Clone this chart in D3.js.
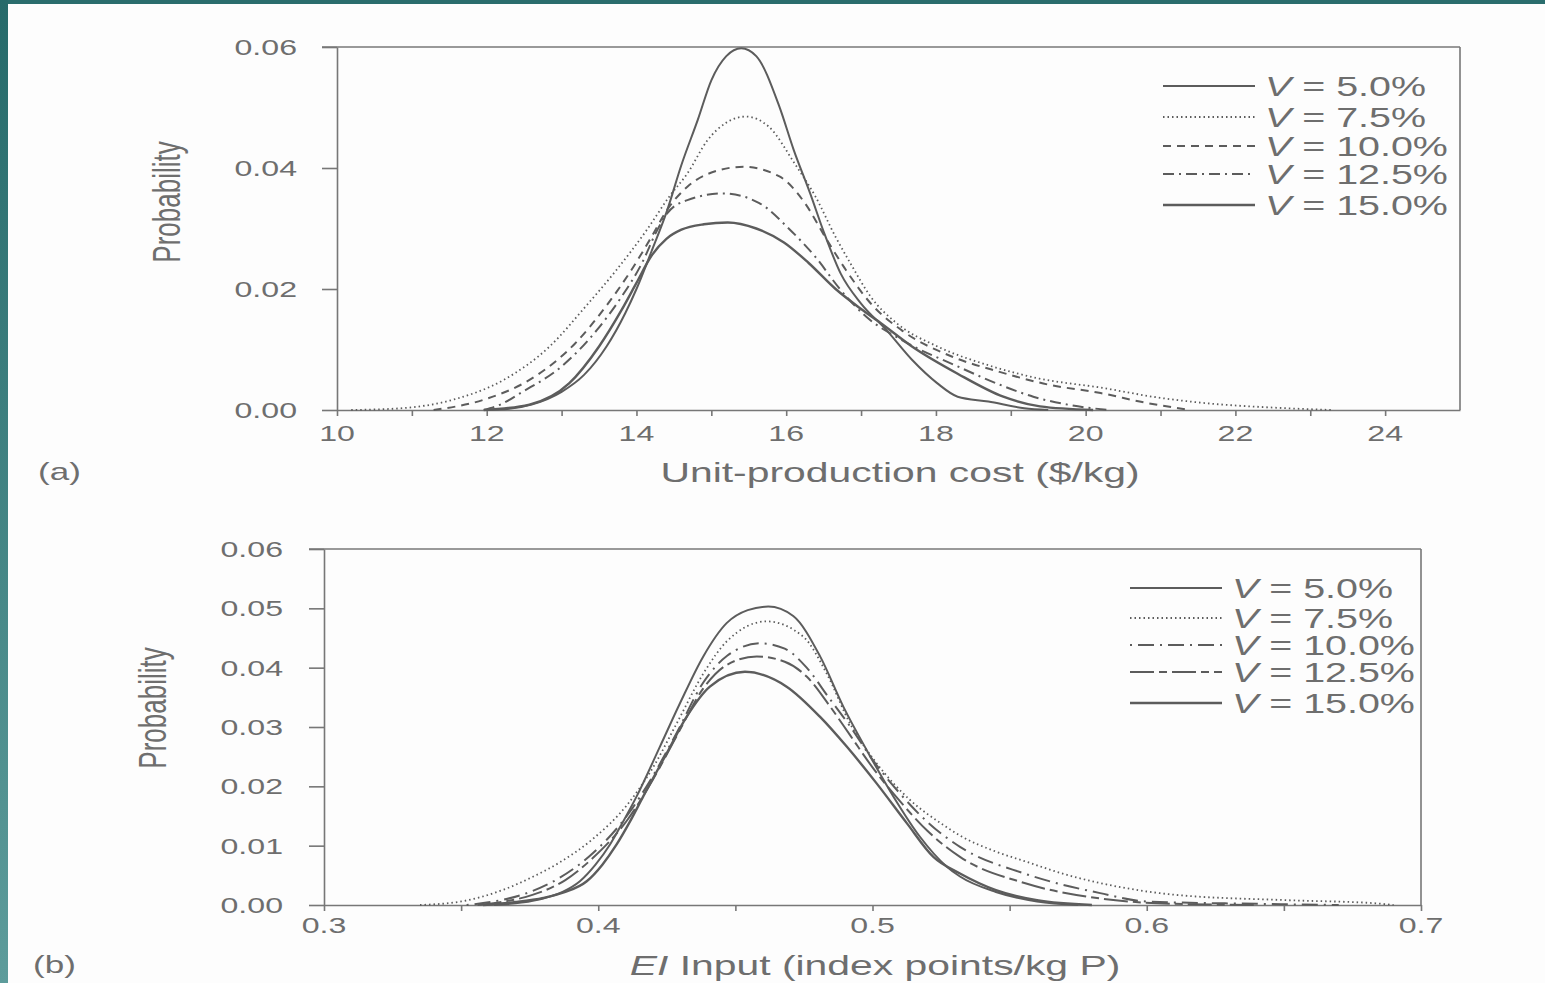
<!DOCTYPE html>
<meta charset="utf-8">
<title>Probability distributions</title>
<style>
  body { margin: 0; background: #fdfdfd; }
  svg { display: block; }
  text { font-family: 'Liberation Sans', Arial, sans-serif; fill: #6e6e6e; }
  .axis path, .axis line { stroke: #777; stroke-width: 1.6; }
</style>
<body>
<div id="chart"></div>
<script src="https://d3js.org/d3.v7.min.js"></script>
<script>
// ---- data ----
// (a) unit-production cost ($/kg) vs probability
var costV5 = [[12.0,0],[12.3,0.0002],[12.6,0.0009],[13.0,0.003],[13.3,0.0058],[13.6,0.0105],[13.85,0.016],[14.0,0.020],[14.2,0.0262],[14.41,0.033],[14.6,0.0405],[14.82,0.048],[15.0,0.0545],[15.2,0.0585],[15.4,0.0598],[15.6,0.0585],[15.91,0.0501],[16.1,0.043],[16.32,0.0358],[16.5,0.0295],[16.73,0.0225],[17.0,0.0176],[17.34,0.0132],[17.68,0.0083],[18.02,0.0044],[18.29,0.0022],[18.7,0.0014],[19.18,0.0003],[19.5,0]];
var costV75 = [[10.19,0],[10.87,0.0003],[11.55,0.0017],[12.23,0.005],[12.84,0.0105],[13.32,0.0171],[13.73,0.0231],[14.14,0.0298],[14.44,0.0353],[14.68,0.0391],[14.95,0.0446],[15.2,0.0475],[15.46,0.0485],[15.77,0.0468],[16.11,0.0408],[16.39,0.0353],[16.66,0.0286],[16.86,0.0242],[17.13,0.0187],[17.48,0.0143],[18.02,0.0105],[18.7,0.0074],[19.38,0.0052],[20.2,0.0037],[21.0,0.002],[21.63,0.0011],[22.5,0.0004],[23.3,0]];
var costV10 = [[11.29,0],[11.96,0.0017],[12.64,0.0055],[13.18,0.011],[13.59,0.0171],[13.93,0.0231],[14.2,0.0286],[14.41,0.0331],[14.68,0.0369],[14.95,0.039],[15.43,0.0402],[15.91,0.0386],[16.25,0.0342],[16.52,0.0286],[16.8,0.0231],[17.13,0.0176],[17.54,0.0132],[18.22,0.0088],[18.85,0.0063],[19.5,0.0042],[20.2,0.0028],[20.8,0.0012],[21.4,0]];
var costV125 = [[11.96,0],[12.2,0.001],[12.45,0.0028],[13.0,0.0072],[13.47,0.0132],[13.8,0.0187],[14.07,0.0242],[14.28,0.0298],[14.41,0.0325],[14.68,0.0347],[15.16,0.0358],[15.64,0.0342],[16.05,0.0298],[16.39,0.0253],[16.73,0.0198],[17.07,0.0154],[17.54,0.0116],[18.29,0.0072],[18.85,0.0042],[19.3,0.0022],[19.8,0.0008],[20.3,0]];
var costV15 = [[11.96,0],[12.57,0.0009],[13.1,0.0044],[13.5,0.0105],[13.8,0.0165],[14.0,0.021],[14.2,0.0255],[14.4,0.0283],[14.6,0.0298],[14.9,0.0307],[15.22,0.031],[15.6,0.03],[15.97,0.0277],[16.3,0.0243],[16.66,0.02],[17.0,0.0167],[17.27,0.0143],[17.68,0.0105],[18.29,0.006],[18.9,0.0022],[19.39,0.0006],[20.1,0]];

// (b) EI input (index points/kg P) vs probability
var eiV5 = [[0.362,0],[0.372,0.0004],[0.38,0.0011],[0.387,0.0022],[0.3933,0.004],[0.399,0.0068],[0.4043,0.0102],[0.409,0.014],[0.414,0.0183],[0.4225,0.0267],[0.4298,0.034],[0.4383,0.0419],[0.4468,0.0475],[0.4545,0.0497],[0.462,0.0503],[0.4711,0.0487],[0.4809,0.0419],[0.4894,0.0334],[0.4979,0.0261],[0.5076,0.0183],[0.5173,0.0115],[0.527,0.0065],[0.5319,0.0048],[0.545,0.0022],[0.56,0.0006],[0.575,0]];
var eiV75 = [[0.335,0],[0.35,0.0006],[0.365,0.0025],[0.375,0.0045],[0.386,0.0072],[0.3982,0.0112],[0.4104,0.0168],[0.42,0.0232],[0.4286,0.0306],[0.4383,0.039],[0.447,0.0445],[0.4614,0.0478],[0.4748,0.0452],[0.4833,0.039],[0.4918,0.0306],[0.5015,0.0239],[0.5137,0.0177],[0.5258,0.0135],[0.5319,0.0117],[0.545,0.009],[0.5554,0.0074],[0.57,0.0052],[0.583,0.0037],[0.6107,0.0017],[0.652,0.0008],[0.683,0.0003],[0.69,0]];
var eiV10 = [[0.352,0],[0.362,0.0006],[0.372,0.0017],[0.386,0.0046],[0.3982,0.0088],[0.4104,0.015],[0.42,0.0218],[0.4286,0.029],[0.4383,0.0375],[0.447,0.042],[0.459,0.0441],[0.468,0.0432],[0.476,0.04],[0.484,0.035],[0.492,0.03],[0.5,0.0245],[0.51,0.0188],[0.52,0.014],[0.5319,0.0098],[0.5554,0.0053],[0.583,0.002],[0.6,0.0006],[0.64,0.0002],[0.67,0]];
var eiV125 = [[0.356,0],[0.366,0.0006],[0.376,0.0017],[0.388,0.0042],[0.3982,0.008],[0.4104,0.0142],[0.42,0.0212],[0.4286,0.0285],[0.4383,0.0365],[0.447,0.0405],[0.4578,0.0419],[0.468,0.041],[0.476,0.0385],[0.484,0.0338],[0.492,0.0285],[0.5,0.0232],[0.51,0.0175],[0.52,0.0125],[0.5319,0.0081],[0.5554,0.0037],[0.583,0.0011],[0.61,0.0002],[0.64,0]];
var eiV15 = [[0.358,0],[0.37,0.0005],[0.38,0.0012],[0.388,0.0022],[0.3958,0.004],[0.4015,0.0068],[0.4067,0.0102],[0.4115,0.014],[0.4164,0.0183],[0.425,0.0256],[0.4322,0.0317],[0.4407,0.0368],[0.4535,0.0393],[0.4687,0.0368],[0.4809,0.0317],[0.4906,0.0267],[0.5015,0.0205],[0.5125,0.0138],[0.5222,0.0081],[0.5319,0.0053],[0.545,0.0025],[0.56,0.0008],[0.58,0]];

var seriesLabels = ["5.0%", "7.5%", "10.0%", "12.5%", "15.0%"];
var costTicks = [10, 11, 12, 13, 14, 15, 16, 17, 18, 19, 20, 21, 22, 23, 24];
var costTickLabels = [10, 12, 14, 16, 18, 20, 22, 24];
var probTicksA = [0, 0.02, 0.04, 0.06];
var eiTicks = [0.3, 0.35, 0.4, 0.45, 0.5, 0.55, 0.6, 0.65, 0.7];
var eiTickLabels = [0.3, 0.4, 0.5, 0.6, 0.7];
var probTicksB = [0, 0.01, 0.02, 0.03, 0.04, 0.05, 0.06];

// ---- setup ----
var W = 1545, H = 983;
var SX = 1.46; // the scan is stretched horizontally
var ink = "#5c5c5c";

var svg = d3.select("#chart").append("svg").attr("width", W).attr("height", H);

// teal border of the slide
var grad = svg.append("defs").append("linearGradient").attr("id", "teal")
  .attr("x1", 0).attr("y1", 0).attr("x2", 0).attr("y2", 1);
grad.append("stop").attr("offset", "0%").attr("stop-color", "#266a6a");
grad.append("stop").attr("offset", "100%").attr("stop-color", "#5d9c9b");
svg.append("rect").attr("x", 0).attr("y", 0).attr("width", W).attr("height", 4).attr("fill", "#2a6d6d");
svg.append("rect").attr("x", 0).attr("y", 0).attr("width", 8).attr("height", H).attr("fill", "url(#teal)");

function txt(x, y, str, size, anchor, rot) {
  return svg.append("text")
    .attr("transform", "translate(" + x + "," + y + ") scale(" + SX + ",1)" + (rot ? " rotate(-90)" : ""))
    .attr("text-anchor", anchor || "start")
    .attr("font-size", size)
    .text(str);
}

function panel(cfg) {
  var x = cfg.x, y = cfg.y;
  var g = svg.append("g");

  // left axis
  g.append("g").attr("class", "axis")
    .attr("transform", "translate(" + x.range()[0] + ",0)")
    .call(d3.axisLeft(y).tickValues(cfg.yTicks).tickSize(15).tickSizeOuter(0).tickFormat(""));
  cfg.yTicks.forEach(function (t) {
    txt(x.range()[0] - cfg.yLabelGap, y(t) + 8, d3.format(".2f")(t), 22, "end");
  });

  // bottom axis
  g.append("g").attr("class", "axis")
    .attr("transform", "translate(0," + y.range()[0] + ")")
    .call(d3.axisBottom(x).tickValues(cfg.xTicks).tickSize(6).tickSizeOuter(0).tickFormat(""));
  cfg.xLabels.forEach(function (t) {
    txt(x(t), y.range()[0] + cfg.xLabelDy, cfg.xFmt(t), 22, "middle");
  });

  // top and right frame
  g.append("line").attr("x1", x.range()[0] - 15).attr("x2", x.range()[1])
    .attr("y1", y.range()[1]).attr("y2", y.range()[1]).attr("stroke", "#777").attr("stroke-width", 1.6);
  g.append("line").attr("x1", x.range()[1]).attr("x2", x.range()[1])
    .attr("y1", y.range()[1]).attr("y2", y.range()[0]).attr("stroke", "#777").attr("stroke-width", 1.6);

  var line = d3.line()
    .x(function (d) { return x(d[0]); })
    .y(function (d) { return y(d[1]); })
    .curve(d3.curveMonotoneX);

  cfg.series.forEach(function (s, i) {
    g.append("path").datum(s)
      .attr("d", line)
      .attr("fill", "none")
      .attr("stroke", ink)
      .attr("stroke-width", cfg.widths[i])
      .attr("stroke-dasharray", cfg.dashes[i]);
  });

  // legend
  seriesLabels.forEach(function (lab, i) {
    var ly = cfg.legY[i];
    g.append("line")
      .attr("x1", cfg.legX).attr("x2", cfg.legX + 92)
      .attr("y1", ly).attr("y2", ly)
      .attr("stroke", ink).attr("stroke-width", cfg.widths[i])
      .attr("stroke-dasharray", cfg.dashes[i]);
    var t = txt(cfg.legX + 102, ly + 10, "", 27, "start");
    t.append("tspan").attr("font-style", "italic").text("V");
    t.append("tspan").text(" = " + lab);
  });
}

var xA = d3.scaleLinear().domain([10, 25]).range([337, 1460]);
var yA = d3.scaleLinear().domain([0, 0.06]).range([410, 47]);
panel({
  x: xA, y: yA,
  yTicks: probTicksA, yLabelGap: 40,
  xTicks: costTicks, xLabels: costTickLabels, xLabelDy: 31, xFmt: d3.format("d"),
  series: [costV5, costV75, costV10, costV125, costV15],
  widths: [2, 1.8, 2, 2, 2.4],
  dashes: [null, "1.5,3", "8,6", "11,5,2,5", null],
  legX: 1163, legY: [86, 117, 146, 174, 205]
});

var xB = d3.scaleLinear().domain([0.3, 0.7]).range([324, 1421]);
var yB = d3.scaleLinear().domain([0, 0.06]).range([905, 549]);
panel({
  x: xB, y: yB,
  yTicks: probTicksB, yLabelGap: 41,
  xTicks: eiTicks, xLabels: eiTickLabels, xLabelDy: 28, xFmt: d3.format(".1f"),
  series: [eiV5, eiV75, eiV10, eiV125, eiV15],
  widths: [2, 1.8, 2, 2, 2.4],
  dashes: [null, "1.5,3", "2,6,16,6", "24,5,8,5", null],
  legX: 1130, legY: [588, 618, 645, 672, 703]
});

// titles
txt(900, 482, "Unit-production cost ($/kg)", 28, "middle");
var tb = txt(875, 975, "", 28, "middle");
tb.append("tspan").attr("font-style", "italic").text("EI");
tb.append("tspan").text(" Input (index points/kg P)");
txt(180, 202, "Probability", 26, "middle", true);
txt(166, 708, "Probability", 26, "middle", true);
txt(38, 480, "(a)", 24, "start");
txt(33, 973, "(b)", 24, "start");
</script>
</body>
